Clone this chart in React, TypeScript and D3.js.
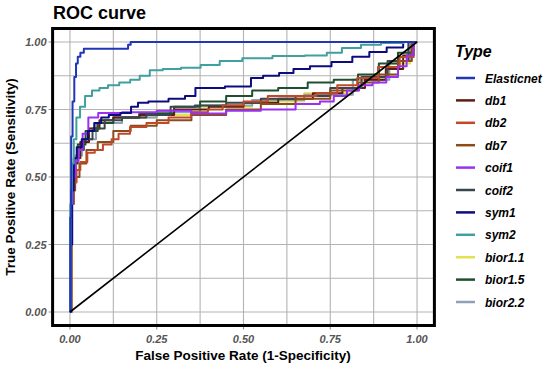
import React from 'react';
import * as d3 from 'd3';

// ROC readings per model, [fpr, tpr]
const elasticnet = [[0,0],[0.002,0.35],[0.005,0.65],[0.01,0.78],[0.015,0.87],[0.02,0.92],[0.025,0.945],[0.035,0.96],[0.045,0.975],[0.165,0.975],[0.17,0.99],[0.18,1],[1,1]];
const db1 = [[0,0],[0.006,0.4],[0.012,0.52],[0.02,0.57],[0.04,0.63],[0.07,0.68],[0.1,0.71],[0.15,0.72],[0.25,0.73],[0.35,0.75],[0.45,0.76],[0.55,0.775],[0.65,0.79],[0.75,0.81],[0.82,0.83],[0.88,0.86],[0.94,0.9],[0.98,0.95],[1,1]];
const db2 = [[0,0],[0.008,0.4],[0.015,0.48],[0.023,0.526],[0.037,0.556],[0.063,0.59],[0.08,0.6],[0.11,0.62],[0.13,0.64],[0.15,0.66],[0.196,0.685],[0.245,0.7],[0.323,0.72],[0.375,0.74],[0.42,0.75],[0.46,0.766],[0.54,0.78],[0.6,0.8],[0.68,0.8],[0.74,0.81],[0.8,0.84],[0.855,0.867],[0.92,0.907],[0.98,0.944],[1,1]];
const db7 = [[0,0],[0.01,0.45],[0.02,0.5],[0.035,0.55],[0.06,0.6],[0.1,0.63],[0.15,0.67],[0.2,0.69],[0.3,0.71],[0.4,0.73],[0.5,0.75],[0.6,0.77],[0.7,0.79],[0.8,0.82],[0.86,0.85],[0.92,0.88],[0.97,0.93],[1,1]];
const coif1 = [[0,0],[0.006,0.4],[0.012,0.5],[0.02,0.56],[0.03,0.6],[0.043,0.66],[0.063,0.72],[0.1,0.737],[0.2,0.74],[0.3,0.745],[0.4,0.735],[0.5,0.745],[0.6,0.75],[0.7,0.77],[0.74,0.78],[0.78,0.8],[0.816,0.82],[0.85,0.84],[0.893,0.85],[0.93,0.87],[0.96,0.91],[0.98,0.95],[1,1]];
const coif2 = [[0,0],[0.005,0.4],[0.01,0.52],[0.018,0.57],[0.03,0.6],[0.05,0.64],[0.08,0.68],[0.12,0.71],[0.18,0.72],[0.26,0.73],[0.32,0.76],[0.4,0.765],[0.5,0.775],[0.6,0.79],[0.7,0.8],[0.8,0.83],[0.88,0.87],[0.95,0.93],[1,1]];
const sym1 = [[0,0],[0.005,0.25],[0.008,0.45],[0.014,0.57],[0.025,0.61],[0.043,0.64],[0.06,0.67],[0.08,0.7],[0.1,0.72],[0.124,0.73],[0.167,0.737],[0.185,0.76],[0.207,0.775],[0.245,0.78],[0.323,0.79],[0.34,0.8],[0.383,0.83],[0.51,0.835],[0.533,0.867],[0.58,0.875],[0.625,0.885],[0.663,0.9],[0.72,0.91],[0.787,0.926],[0.84,0.945],[0.885,0.963],[0.94,0.98],[0.98,1],[1,1]];
const sym2 = [[0,0],[0.003,0.4],[0.008,0.55],[0.014,0.64],[0.023,0.72],[0.035,0.76],[0.052,0.8],[0.075,0.82],[0.095,0.83],[0.124,0.84],[0.16,0.85],[0.187,0.86],[0.215,0.875],[0.245,0.895],[0.29,0.9],[0.35,0.905],[0.403,0.915],[0.46,0.93],[0.533,0.94],[0.634,0.948],[0.72,0.95],[0.76,0.96],[0.807,0.978],[0.87,0.99],[0.922,0.996],[1,1]];
const bior11 = [[0,0],[0.006,0.4],[0.012,0.52],[0.02,0.57],[0.04,0.63],[0.07,0.68],[0.1,0.7],[0.2,0.72],[0.3,0.73],[0.45,0.76],[0.6,0.78],[0.75,0.81],[0.88,0.86],[0.96,0.92],[1,1]];
const bior15 = [[0,0],[0.006,0.45],[0.015,0.55],[0.03,0.62],[0.06,0.67],[0.1,0.7],[0.15,0.72],[0.25,0.735],[0.35,0.76],[0.4,0.78],[0.5,0.8],[0.55,0.82],[0.65,0.83],[0.72,0.85],[0.8,0.86],[0.86,0.88],[0.92,0.92],[0.97,0.96],[1,1]];
const bior22 = [[0,0],[0.005,0.4],[0.01,0.52],[0.02,0.58],[0.05,0.64],[0.1,0.7],[0.2,0.72],[0.3,0.74],[0.45,0.765],[0.6,0.785],[0.75,0.805],[0.88,0.86],[0.96,0.93],[1,1]];

const typeNames = ['Elasticnet', 'db1', 'db2', 'db7', 'coif1', 'coif2', 'sym1', 'sym2', 'bior1.1', 'bior1.5', 'bior2.2'];
const typeColors = ['#2236b8', '#5c1e10', '#c04a28', '#8b4c1c', '#9b30f0', '#3a464e', '#0c0c80', '#40a0a0', '#e2e24e', '#1e5030', '#90a0b8'];
const typeData = [elasticnet, db1, db2, db7, coif1, coif2, sym1, sym2, bior11, bior15, bior22];
// paint order: hidden ones first
const drawOrder = [8, 10, 9, 1, 5, 3, 2, 4, 6, 7, 0];

const ticks = [0, 0.25, 0.5, 0.75, 1];
const gridVals = [0, 0.125, 0.25, 0.375, 0.5, 0.625, 0.75, 0.875, 1];

export default function App() {
  const x = d3.scaleLinear().domain([-0.05, 1.05]).range([52.6, 434.4]);
  const y = d3.scaleLinear().domain([-0.05, 1.05]).range([325.5, 28.5]);
  const line = d3.line<number[]>().x(d => x(d[0])).y(d => y(d[1])).curve(d3.curveStep);
  const fmt = d3.format('.2f');
  const tickFont = { fontFamily: 'Arial, Liberation Sans, sans-serif', fontSize: 11, fontWeight: 'bold', fontStyle: 'italic', fill: '#555' } as const;

  return (
    <svg width={550} height={365} style={{ position: 'absolute', left: 0, top: 0, background: '#fff' }}
      fontFamily="Arial, Liberation Sans, sans-serif">
      <rect x={0} y={0} width={550} height={365} fill="#fff" />
      <text x={53} y={19} fontSize={18} fontWeight="bold" fill="#000">ROC curve</text>

      {gridVals.map(v => (
        <g key={'g' + v}>
          <line x1={x(v)} x2={x(v)} y1={y(1.05)} y2={y(-0.05)} stroke="#b3b3b3" strokeWidth={1.1} />
          <line x1={x(-0.05)} x2={x(1.05)} y1={y(v)} y2={y(v)} stroke="#b3b3b3" strokeWidth={1.1} />
        </g>
      ))}

      {drawOrder.map(i => (
        <path key={typeNames[i]} d={line(typeData[i] as number[][]) || ''} fill="none"
          stroke={typeColors[i]} strokeWidth={2} strokeLinejoin="round" />
      ))}
      <line x1={x(0)} y1={y(0)} x2={x(1)} y2={y(1)} stroke="#000" strokeWidth={1.6} />

      <rect x={x(-0.05)} y={y(1.05)} width={x(1.05) - x(-0.05)} height={y(-0.05) - y(1.05)}
        fill="none" stroke="#000" strokeWidth={3} />

      {ticks.map(v => (
        <g key={'t' + v}>
          <line x1={x(v)} x2={x(v)} y1={y(-0.05) + 1.5} y2={y(-0.05) + 4} stroke="#888" />
          <text x={x(v)} y={y(-0.05) + 17} textAnchor="middle" {...tickFont}>{fmt(v)}</text>
          <line x1={x(-0.05) - 4} x2={x(-0.05) - 1.5} y1={y(v)} y2={y(v)} stroke="#888" />
          <text x={x(-0.05) - 6} y={y(v) + 4} textAnchor="end" {...tickFont}>{fmt(v)}</text>
        </g>
      ))}

      <text x={243} y={360} textAnchor="middle" fontSize={13.5} fontWeight="bold" fill="#000">False Positive Rate (1-Specificity)</text>
      <text transform={`translate(15,${y(0.5)}) rotate(-90)`} textAnchor="middle" fontSize={13.5} fontWeight="bold" fill="#000">True Positive Rate (Sensitivity)</text>

      <text x={455} y={57} fontSize={16} fontWeight="bold" fontStyle="italic" fill="#000">Type</text>
      {typeNames.map((name, i) => (
        <g key={'l' + name} transform={`translate(0,${78 + i * 22.4})`}>
          <line x1={456} x2={475} y1={0} y2={0} stroke={typeColors[i]} strokeWidth={2.5} />
          <text x={485} y={4.5} fontSize={12} fontWeight="bold" fontStyle="italic" fill="#000">{name}</text>
        </g>
      ))}
    </svg>
  );
}
